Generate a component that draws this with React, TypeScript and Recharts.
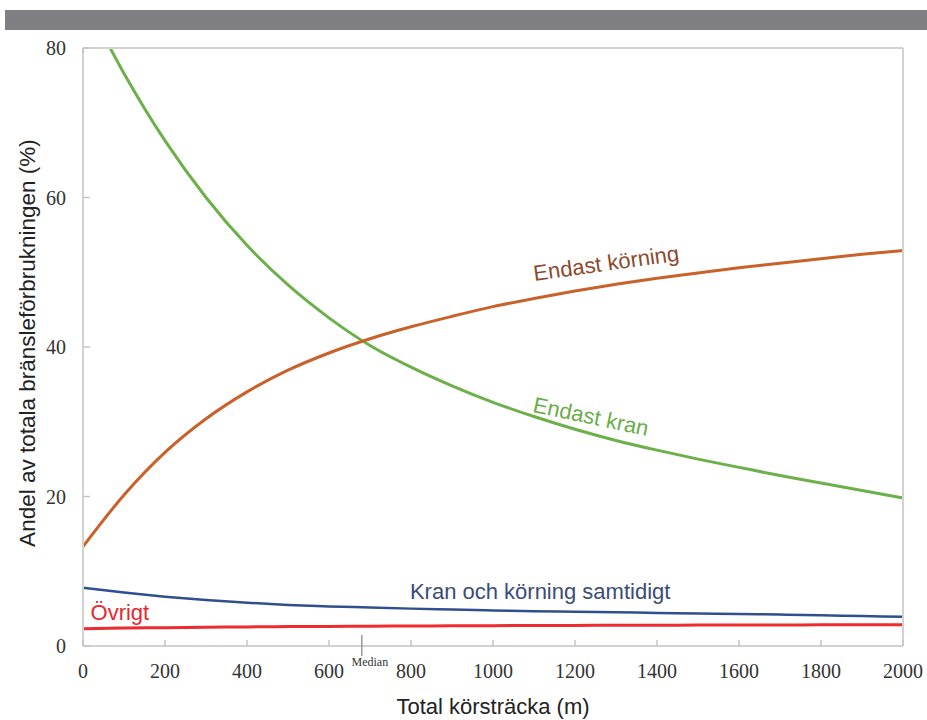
import React from "react";
import { LineChart, Line, XAxis, YAxis, ReferenceDot } from "recharts";

// total distance driven (m)
const distance = [0, 100, 200, 300, 400, 500, 600, 700, 800, 900, 1000, 1100, 1200, 1300, 1400, 1500, 1600, 1700, 1800, 1900, 2000];

// share of total fuel use (%)
const endastKorning = [13.3, 20.2, 25.9, 30.4, 34.0, 36.9, 39.2, 41.1, 42.7, 44.1, 45.4, 46.5, 47.5, 48.4, 49.2, 49.9, 50.6, 51.2, 51.8, 52.4, 52.9];
const endastKran = [87, 76.6, 67.6, 60.0, 53.6, 48.3, 43.9, 40.2, 37.3, 34.8, 32.6, 30.7, 29.0, 27.5, 26.2, 25.0, 23.9, 22.8, 21.8, 20.8, 19.8];
const kranOchKorning = [7.8, 7.15, 6.6, 6.15, 5.8, 5.5, 5.3, 5.15, 5.0, 4.87, 4.75, 4.65, 4.57, 4.5, 4.43, 4.36, 4.28, 4.2, 4.1, 4.0, 3.9];
const ovrigt = [2.3, 2.4, 2.45, 2.5, 2.55, 2.6, 2.62, 2.65, 2.67, 2.7, 2.72, 2.74, 2.75, 2.77, 2.78, 2.8, 2.81, 2.82, 2.83, 2.84, 2.85];

const MEDIAN = 680;
const xTicks = [0, 200, 400, 600, 800, 1000, 1200, 1400, 1600, 1800, 2000];
const yTicks = [0, 20, 40, 60, 80];
const rightTicks = [0, 16, 32, 48, 64, 80];

const data = distance.map((d, i) => ({
  d,
  korning: endastKorning[i],
  kran: endastKran[i],
  samtidigt: kranOchKorning[i],
  ovrigt: ovrigt[i],
}));

const SERIF = "'Liberation Serif', 'Times New Roman', serif";
const SANS = "'Liberation Sans', Arial, sans-serif";
const FRAME = "#d2d2d2";
const TICK = "#c4c4c4";

const BottomTick = (props: any) => {
  const { x, y, payload } = props;
  if (payload.value === MEDIAN) {
    return (
      <g>
        <line x1={x} x2={x} y1={y - 11} y2={y + 10} stroke="#9a9a9a" strokeWidth={1.5} />
        <text x={x + 8} y={y + 20} textAnchor="middle" fontSize={12} fontFamily={SERIF} fill="#333">
          Median
        </text>
      </g>
    );
  }
  return (
    <g>
      <line x1={x} x2={x} y1={y} y2={y - 6} stroke={TICK} strokeWidth={1.5} />
      <text x={x} y={y + 32} textAnchor="middle" fontSize={20} fontFamily={SERIF} fill="#333">
        {payload.value}
      </text>
    </g>
  );
};

const TopTick = (props: any) => {
  const { x, y } = props;
  return <line x1={x} x2={x} y1={y} y2={y + 6} stroke={TICK} strokeWidth={1.5} />;
};

const LeftTick = (props: any) => {
  const { x, y, payload } = props;
  return (
    <g>
      <line x1={x} x2={x + 7} y1={y} y2={y} stroke={TICK} strokeWidth={1.5} />
      <text x={x - 17} y={y + 7} textAnchor="end" fontSize={20} fontFamily={SERIF} fill="#333">
        {payload.value}
      </text>
    </g>
  );
};

const RightTick = (props: any) => {
  const { x, y } = props;
  return <line x1={x} x2={x - 7} y1={y} y2={y} stroke={TICK} strokeWidth={1.5} />;
};

const curveLabel = (text: string, color: string, angle: number) => (p: any) => {
  const { x, y } = p.viewBox;
  return (
    <text
      x={x}
      y={y}
      textAnchor="middle"
      dominantBaseline="central"
      fontSize={22}
      fontFamily={SANS}
      fill={color}
      transform={`rotate(${angle} ${x} ${y})`}
    >
      {text}
    </text>
  );
};

const YTitle = () => {
  const cx = 27;
  const cy = 343;
  return (
    <text
      x={cx}
      y={cy}
      textAnchor="middle"
      dominantBaseline="central"
      fontSize={22.5}
      fontFamily={SANS}
      fill="#222"
      transform={`rotate(-90 ${cx} ${cy})`}
    >
      Andel av totala bränsleförbrukningen (%)
    </text>
  );
};

export default function App() {
  return (
    <div style={{ position: "absolute", left: 0, top: 0, width: 927, height: 720, background: "#fff" }}>
      <div style={{ position: "absolute", left: 5, top: 10, width: 922, height: 20, background: "#7f7e83" }} />
      <div style={{ position: "absolute", left: 0, top: 0 }}>
        <LineChart width={927} height={720} data={data} margin={{ top: 47, right: 0, bottom: 0, left: 0 }}>
          <XAxis
            dataKey="d"
            type="number"
            domain={[0, 2000]}
            ticks={[...xTicks, MEDIAN]}
            interval={0}
            height={74}
            tickSize={0}
            tickMargin={0}
            tickLine={false}
            axisLine={{ stroke: FRAME, strokeWidth: 2 }}
            tick={<BottomTick />}
            label={{
              value: "Total körsträcka (m)",
              position: "insideBottom",
              offset: 6,
              fontSize: 22,
              fontFamily: SANS,
              fill: "#222",
            }}
          />
          <XAxis
            xAxisId="top"
            orientation="top"
            type="number"
            domain={[0, 2000]}
            ticks={xTicks}
            interval={0}
            height={1}
            tickSize={0}
            tickMargin={0}
            tickLine={false}
            axisLine={{ stroke: FRAME, strokeWidth: 2 }}
            tick={<TopTick />}
          />
          <YAxis
            type="number"
            domain={[0, 80]}
            ticks={yTicks}
            interval={0}
            allowDataOverflow
            width={83}
            tickSize={0}
            tickMargin={0}
            tickLine={false}
            axisLine={{ stroke: FRAME, strokeWidth: 2 }}
            tick={<LeftTick />}
            label={{ content: () => <YTitle /> }}
          />
          <YAxis
            yAxisId="right"
            orientation="right"
            type="number"
            domain={[0, 80]}
            ticks={rightTicks}
            interval={0}
            width={24}
            tickSize={0}
            tickMargin={0}
            tickLine={false}
            axisLine={{ stroke: FRAME, strokeWidth: 2 }}
            tick={<RightTick />}
          />

          <Line type="monotone" dataKey="ovrigt" stroke="#ee2b2f" strokeWidth={3} dot={false} isAnimationActive={false} />
          <Line type="monotone" dataKey="samtidigt" stroke="#2f4f8f" strokeWidth={2.5} dot={false} isAnimationActive={false} />
          <Line type="monotone" dataKey="kran" stroke="#6cb04a" strokeWidth={3} dot={false} isAnimationActive={false} />
          <Line type="monotone" dataKey="korning" stroke="#c8622a" strokeWidth={3} dot={false} isAnimationActive={false} />

          <ReferenceDot x={1276} y={51.2} r={0} fill="none" stroke="none" label={{ content: curveLabel("Endast körning", "#8d4a2c", -8) }} />
          <ReferenceDot x={1239} y={30.7} r={0} fill="none" stroke="none" label={{ content: curveLabel("Endast kran", "#6aad48", 12) }} />
          <ReferenceDot x={1115} y={7.35} r={0} fill="none" stroke="none" label={{ content: curveLabel("Kran och körning samtidigt", "#3a4c78", 0) }} />
          <ReferenceDot x={90} y={4.5} r={0} fill="none" stroke="none" label={{ content: curveLabel("Övrigt", "#e8262c", 0) }} />
        </LineChart>
      </div>
    </div>
  );
}
